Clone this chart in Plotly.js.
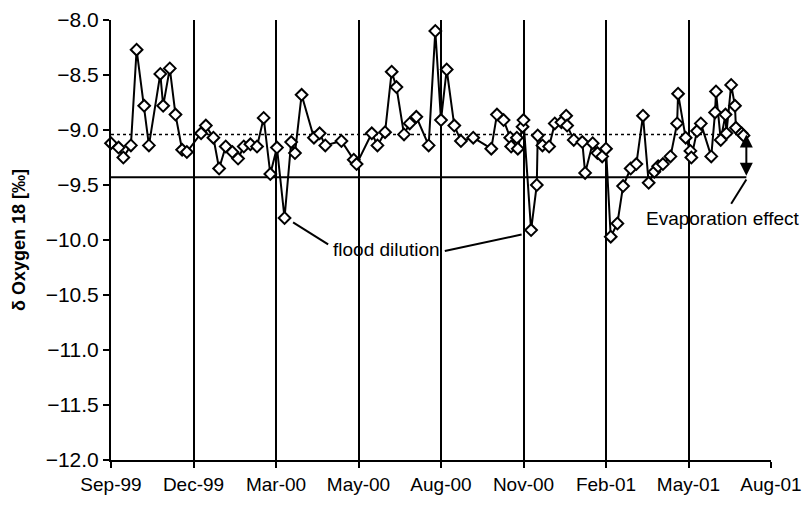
<!DOCTYPE html>
<html>
<head>
<meta charset="utf-8">
<script src="https://cdn.plot.ly/plotly-3.0.1.min.js"></script>
<style>
  html, body { margin: 0; padding: 0; background: #ffffff; }
  #chart { width: 805px; height: 507px; }
</style>
</head>
<body>
<div id="chart"></div>
<script>
// ---- data ----
const sampleDates = [
  '1999-09-09','1999-09-17','1999-09-22','1999-09-30','1999-10-06','1999-10-14','1999-10-19','1999-10-31',
  '1999-11-03','1999-11-10','1999-11-16','1999-11-23','1999-11-28','1999-12-13','1999-12-18','1999-12-26',
  '2000-01-01','2000-01-08','2000-01-15','2000-01-21','2000-01-27','2000-02-03','2000-02-10','2000-02-17',
  '2000-02-24','2000-03-02','2000-03-10','2000-03-17','2000-03-21','2000-03-28','2000-04-10','2000-04-16',
  '2000-04-22','2000-05-09','2000-05-22','2000-05-25','2000-06-10','2000-06-16','2000-06-24','2000-07-01',
  '2000-07-06','2000-07-14','2000-07-20','2000-07-27','2000-08-09','2000-08-16','2000-08-22','2000-08-28',
  '2000-09-05','2000-09-12','2000-09-25','2000-10-14','2000-10-20','2000-10-27','2000-11-03','2000-11-04',
  '2000-11-10','2000-11-11','2000-11-16','2000-11-17','2000-11-25','2000-12-01','2000-12-02','2000-12-07',
  '2000-12-14','2000-12-20','2000-12-27','2001-01-01','2001-01-02','2001-01-09','2001-01-18','2001-01-21',
  '2001-01-29','2001-02-03','2001-02-08','2001-02-12','2001-02-17','2001-02-24','2001-03-02','2001-03-10',
  '2001-03-16','2001-03-23','2001-03-29','2001-04-04','2001-04-08','2001-04-13','2001-04-21','2001-04-28',
  '2001-04-29','2001-05-07','2001-05-12','2001-05-13','2001-05-19','2001-05-23','2001-06-03','2001-06-07',
  '2001-06-08','2001-06-13','2001-06-18','2001-06-19','2001-06-24','2001-06-28','2001-06-29','2001-07-05',
  '2001-07-07'
];
const delta18O = [
  -9.12,-9.16,-9.25,-9.14,-8.27,-8.78,-9.14,-8.49,
  -8.78,-8.44,-8.86,-9.18,-9.20,-9.03,-8.96,-9.07,
  -9.35,-9.15,-9.20,-9.26,-9.15,-9.13,-9.15,-8.89,
  -9.40,-9.16,-9.80,-9.11,-9.21,-8.68,-9.07,-9.03,
  -9.14,-9.10,-9.27,-9.31,-9.03,-9.14,-9.02,-8.47,
  -8.61,-9.04,-8.94,-8.88,-9.14,-8.10,-8.91,-8.45,
  -8.96,-9.10,-9.07,-9.17,-8.86,-8.91,-9.07,-9.15,
  -9.07,-9.17,-8.97,-8.91,-9.91,-9.50,-9.05,-9.14,
  -9.15,-8.94,-8.93,-8.87,-8.96,-9.09,-9.11,-9.39,
  -9.12,-9.21,-9.24,-9.17,-9.97,-9.85,-9.51,-9.35,
  -9.31,-8.87,-9.48,-9.38,-9.33,-9.31,-9.24,-8.94,
  -8.67,-9.07,-9.19,-9.25,-9.01,-8.94,-9.24,-8.84,
  -8.65,-9.09,-8.86,-9.03,-8.59,-8.78,-8.98,-9.03,
  -9.05
];
const tickDates = ['1999-09-09','1999-12-05','2000-03-01','2000-05-27','2000-08-22',
                   '2000-11-17','2001-02-12','2001-05-10','2001-08-05'];
const tickLabels = ['Sep-99','Dec-99','Mar-00','May-00','Aug-00','Nov-00','Feb-01','May-01','Aug-01'];
const yTicks = [-12.0,-11.5,-11.0,-10.5,-10.0,-9.5,-9.0,-8.5,-8.0];

// reference levels
const meanLevel = -9.04;      // dotted line
const baseLevel = -9.43;      // solid line
const levelEnd = '2001-07-10';

// annotation anchors (data coordinates)
const floodLabel = {x: '2000-06-25', y: -10.09, text: 'flood dilution'};
const floodLink1 = {x0: '2000-03-19', y0: -9.84, x1: '2000-04-25', y1: -10.04};
const floodLink2 = {x0: '2000-08-26', y0: -10.10, x1: '2000-11-15', y1: -9.95};
const evapLabel = {x: '2001-06-15', y: -9.80, text: 'Evaporation effect'};
const evapLink = {x0: '2001-06-24', y0: -9.67, x1: '2001-07-10', y1: -9.45};

const font = 'Arial, "Liberation Sans", sans-serif';

const traces = [
  {
    x: [sampleDates[0], levelEnd], y: [meanLevel, meanLevel],
    mode: 'lines', line: {color: '#000', width: 1.5, dash: 'dot'},
    hoverinfo: 'skip', showlegend: false
  },
  {
    x: [sampleDates[0], levelEnd], y: [baseLevel, baseLevel],
    mode: 'lines', line: {color: '#000', width: 2},
    hoverinfo: 'skip', showlegend: false
  },
  {
    x: sampleDates, y: delta18O,
    mode: 'lines+markers',
    line: {color: '#000', width: 2},
    marker: {symbol: 'diamond', size: 9, color: '#fff', line: {color: '#000', width: 2}},
    showlegend: false, cliponaxis: false
  }
];

const layout = {
  width: 805, height: 507,
  margin: {l: 111, r: 34, t: 20, b: 47, pad: 0},
  paper_bgcolor: '#fff', plot_bgcolor: '#fff',
  font: {family: font, size: 19, color: '#000'},
  showlegend: false,
  xaxis: {
    type: 'date',
    range: [tickDates[0], tickDates[tickDates.length - 1]],
    tickmode: 'array', tickvals: tickDates, ticktext: tickLabels,
    showgrid: true, gridcolor: '#000', gridwidth: 2,
    showline: true, linecolor: '#000', linewidth: 2,
    ticks: 'outside', ticklen: 6, tickwidth: 2, tickcolor: '#000',
    zeroline: false,
    tickfont: {family: font, size: 19, color: '#000'}
  },
  yaxis: {
    range: [-12, -8],
    tickmode: 'array', tickvals: yTicks,
    ticktext: yTicks.map(v => (v < 0 ? '\u2212' : '') + Math.abs(v).toFixed(1)),
    showgrid: false,
    showline: true, linecolor: '#000', linewidth: 2,
    ticks: 'outside', ticklen: 6, tickwidth: 2, tickcolor: '#000',
    zeroline: false,
    tickfont: {family: font, size: 21, color: '#000'},
    title: {text: 'δ Oxygen 18 [‰]', font: {family: font, size: 18, color: '#000', weight: 'bold'}, standoff: 15}
  },
  shapes: [
    {type: 'line', xref: 'x', yref: 'y', x0: floodLink1.x0, y0: floodLink1.y0, x1: floodLink1.x1, y1: floodLink1.y1, line: {color: '#000', width: 2}},
    {type: 'line', xref: 'x', yref: 'y', x0: floodLink2.x0, y0: floodLink2.y0, x1: floodLink2.x1, y1: floodLink2.y1, line: {color: '#000', width: 2}},
    {type: 'line', xref: 'x', yref: 'y', x0: evapLink.x0, y0: evapLink.y0, x1: evapLink.x1, y1: evapLink.y1, line: {color: '#000', width: 2}}
  ],
  annotations: [
    {x: floodLabel.x, y: floodLabel.y, xref: 'x', yref: 'y', text: floodLabel.text, showarrow: false,
     font: {family: font, size: 19, color: '#000'}},
    {x: evapLabel.x, y: evapLabel.y, xref: 'x', yref: 'y', text: evapLabel.text, showarrow: false,
     font: {family: font, size: 19, color: '#000'}},
    {x: levelEnd, y: meanLevel, ax: levelEnd, ay: baseLevel, xref: 'x', yref: 'y', axref: 'x', ayref: 'y',
     text: '', showarrow: true, arrowside: 'end+start', arrowhead: 2, arrowsize: 1.3, arrowwidth: 2,
     arrowcolor: '#000', standoff: 0, startstandoff: 0}
  ]
};

Plotly.newPlot('chart', traces, layout, {staticPlot: true, displayModeBar: false});
</script>
</body>
</html>
